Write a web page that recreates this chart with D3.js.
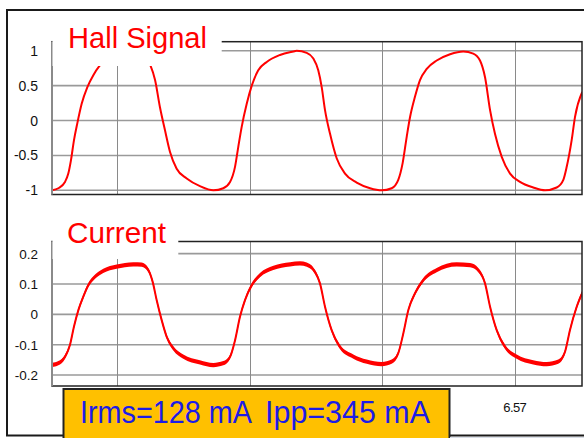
<!DOCTYPE html>
<html>
<head>
<meta charset="utf-8">
<script src="https://cdn.jsdelivr.net/npm/d3@7"></script>
<style>
  html, body { margin: 0; padding: 0; background: #fff; }
  svg { display: block; font-family: "Liberation Sans", Arial, sans-serif; }
</style>
</head>
<body>
<svg id="chart" width="584" height="438"></svg>
<script>
// Time axis in milliseconds
const hallTime = [6535.05, 6535.55, 6536.05, 6536.30, 6536.50, 6536.73, 6536.98, 6537.31, 6537.74, 6538.19,
  6538.64, 6539.07, 6539.60, 6540.20, 6540.96, 6541.56, 6542.02, 6542.32, 6542.52, 6542.85,
  6543.22, 6543.60, 6543.98, 6544.48, 6545.24, 6546.24, 6547.25, 6548.00, 6548.51, 6548.89,
  6549.13, 6549.39, 6549.77, 6550.15, 6550.64, 6551.28, 6552.28, 6553.29, 6553.54, 6554.30,
  6554.80, 6555.17, 6555.43, 6555.68, 6556.06, 6556.56, 6557.19, 6558.07, 6559.08, 6559.96,
  6560.71, 6561.21, 6561.54, 6561.85, 6562.10, 6562.47, 6562.85, 6563.36, 6564.11, 6565.12,
  6566.12, 6566.87, 6567.38, 6567.76, 6568.14, 6568.51, 6569.02, 6569.65, 6570.40, 6571.40,
  6572.29, 6573.17, 6573.67, 6573.93, 6574.30, 6574.55, 6575.10];
const hallValue = [-1.00, -0.97, -0.88, -0.76, -0.57, -0.28, -0.04, 0.24, 0.48, 0.65,
  0.78, 0.86, 0.92, 0.96, 0.99, 0.97, 0.91, 0.85, 0.78, 0.58,
  0.19, -0.14, -0.45, -0.69, -0.83, -0.94, -1.00, -0.97, -0.88, -0.66,
  -0.38, -0.09, 0.24, 0.50, 0.72, 0.84, 0.94, 0.99, 1.00, 0.97,
  0.89, 0.72, 0.48, 0.15, -0.19, -0.54, -0.76, -0.89, -0.97, -1.00,
  -0.97, -0.85, -0.61, -0.23, 0.05, 0.34, 0.58, 0.74, 0.86, 0.95,
  0.99, 0.96, 0.86, 0.62, 0.15, -0.19, -0.52, -0.76, -0.88, -0.96,
  -1.00, -0.96, -0.85, -0.66, -0.28, 0.05, 0.41];

const currentTime = [6535.05, 6535.55, 6536.05, 6536.43, 6536.73, 6537.06, 6537.43, 6537.81, 6538.32, 6538.94,
  6539.95, 6541.21, 6541.84, 6542.34, 6542.67, 6542.97, 6543.35, 6543.73, 6544.23, 6544.98,
  6546.24, 6547.25, 6548.00, 6548.51, 6548.89, 6549.26, 6549.64, 6550.15, 6550.77, 6551.78,
  6553.04, 6553.79, 6554.30, 6554.92, 6555.30, 6555.68, 6556.18, 6556.81, 6557.82, 6558.83,
  6559.96, 6560.71, 6561.21, 6561.59, 6561.97, 6562.47, 6563.10, 6564.11, 6565.62, 6566.63,
  6567.25, 6567.76, 6568.14, 6568.64, 6569.27, 6570.15, 6571.40, 6572.42, 6573.29, 6573.80,
  6574.17, 6574.68, 6575.13];
const currentValue = [-0.167, -0.161, -0.140, -0.100, -0.040, 0.014, 0.058, 0.096, 0.124, 0.143,
  0.157, 0.165, 0.164, 0.146, 0.107, 0.047, -0.019, -0.074, -0.112, -0.139,
  -0.158, -0.167, -0.161, -0.140, -0.085, -0.008, 0.047, 0.096, 0.129, 0.153,
  0.165, 0.168, 0.164, 0.140, 0.102, 0.025, -0.052, -0.107, -0.139, -0.156,
  -0.164, -0.156, -0.128, -0.063, 0.014, 0.069, 0.113, 0.146, 0.165, 0.162,
  0.146, 0.102, 0.025, -0.052, -0.107, -0.139, -0.158, -0.164, -0.156, -0.123,
  -0.052, 0.025, 0.074];
// half-width of the switching ripple riding on the current trace
const currentRipple = 0.007;

const hallTicks = [-1, -0.5, 0, 0.5, 1];
const currentTicks = [-0.2, -0.1, 0, 0.1, 0.2];
const timeTicks = [6540, 6550, 6560, 6570];
const hallTitle = "Hall Signal";
const currentTitle = "Current";
const readoutLeft = "Irms=128 mA";
const readoutRight = "Ipp=345 mA";

const svg = d3.select("#chart");
const RED = "#ff0000";
const GRID = "#9a9a9a";

// outer frame
svg.append("rect").attr("x", 7).attr("y", 10).attr("width", 600).attr("height", 425.5)
  .attr("fill", "#fff").attr("stroke", "#1a1a1a").attr("stroke-width", 2);

const plotLeft = 52, plotRight = 582;
const x = d3.scaleLinear().domain([6535.07, 6575.08]).range([plotLeft, plotRight]);

const hallPanel = { top: 41.7, bottom: 194.5, domain: [-1.06, 1.13], ticks: hallTicks, fs: 14 };
const currentPanel = { top: 241.5, bottom: 386, domain: [-0.236, 0.24], ticks: currentTicks, fs: 13.5 };

// readout box geometry (it sits over the left part of the time labels)
const box = { x: 63.5, y: 389, w: 386, h: 60 };

function drawPanel(p, id) {
  const y = d3.scaleLinear().domain(p.domain).range([p.bottom, p.top]);
  const g = svg.append("g");
  g.append("clipPath").attr("id", id).append("rect")
    .attr("x", plotLeft).attr("y", p.top).attr("width", plotRight - plotLeft).attr("height", p.bottom - p.top);
  g.append("rect").attr("x", plotLeft).attr("y", p.top)
    .attr("width", plotRight - plotLeft).attr("height", p.bottom - p.top).attr("fill", "#fff");
  // horizontal grid
  g.selectAll("line.hg").data(p.ticks).join("line").attr("class", "hg")
    .attr("x1", plotLeft).attr("x2", plotRight)
    .attr("y1", d => y(d)).attr("y2", d => y(d))
    .attr("stroke", GRID).attr("stroke-width", 1.6);
  // vertical grid
  g.selectAll("line.vg").data(timeTicks).join("line").attr("class", "vg")
    .attr("x1", d => Math.round(x(d)) + 0.5).attr("x2", d => Math.round(x(d)) + 0.5)
    .attr("y1", p.top).attr("y2", p.bottom)
    .attr("stroke", "#8a8a8a").attr("stroke-width", 1);
  // y tick labels
  g.selectAll("text.yt").data(p.ticks).join("text").attr("class", "yt")
    .attr("x", 38).attr("y", d => y(d)).attr("dy", "0.36em")
    .attr("text-anchor", "end").attr("font-size", p.fs).attr("fill", "#111")
    .text(d => String(d));
  return { g, y };
}

// Hall signal panel
const hp = drawPanel(hallPanel, "clipHall");
const hallData = d3.zip(hallTime, hallValue);
hp.g.append("path").datum(hallData)
  .attr("clip-path", "url(#clipHall)")
  .attr("fill", "none").attr("stroke", RED).attr("stroke-width", 2)
  .attr("d", d3.line().x(d => x(d[0])).y(d => hp.y(d[1])).curve(d3.curveMonotoneX));

// Current panel
const cp = drawPanel(currentPanel, "clipCurrent");
const currentData = d3.zip(currentTime, currentValue);
cp.g.append("path").datum(currentData)
  .attr("clip-path", "url(#clipCurrent)")
  .attr("fill", RED).attr("stroke", "none")
  .attr("d", d3.area().x(d => x(d[0]))
    .y0(d => cp.y(d[1] - currentRipple)).y1(d => cp.y(d[1] + currentRipple))
    .curve(d3.curveMonotoneX));
cp.g.append("path").datum(currentData)
  .attr("clip-path", "url(#clipCurrent)")
  .attr("fill", "none").attr("stroke", RED).attr("stroke-width", 2)
  .attr("d", d3.line().x(d => x(d[0])).y(d => cp.y(d[1])).curve(d3.curveMonotoneX));

// panel borders
[hallPanel, currentPanel].forEach(p => {
  svg.append("rect").attr("x", plotLeft).attr("y", p.top)
    .attr("width", plotRight - plotLeft).attr("height", p.bottom - p.top)
    .attr("fill", "none").attr("stroke", "#222").attr("stroke-width", 1.5);
  svg.append("line").attr("x1", plotLeft).attr("x2", plotLeft)
    .attr("y1", p.top).attr("y2", p.bottom)
    .attr("stroke", "#8a8a8a").attr("stroke-width", 2);
});

// x tick labels under the current panel (only those clear of the readout box)
svg.selectAll("text.xt").data(timeTicks.filter(d => x(d) > box.x + box.w)).join("text").attr("class", "xt")
  .attr("x", d => x(d)).attr("y", 411.5)
  .attr("text-anchor", "middle").attr("font-size", 13).attr("fill", "#111")
  .attr("letter-spacing", -0.6)
  .text(d => (d / 1000).toFixed(2));

// panel titles on white plates
svg.append("rect").attr("x", 52.5).attr("y", 13).attr("width", 169.2).attr("height", 53).attr("fill", "#fff");
svg.append("text").attr("x", 68).attr("y", 48.3).attr("font-size", 30).attr("fill", RED)
  .attr("textLength", 139).attr("lengthAdjust", "spacingAndGlyphs").text(hallTitle);

svg.append("rect").attr("x", 52.5).attr("y", 205).attr("width", 125.8).attr("height", 54).attr("fill", "#fff");
svg.append("text").attr("x", 67).attr("y", 243.3).attr("font-size", 30).attr("fill", RED)
  .attr("textLength", 99).attr("lengthAdjust", "spacingAndGlyphs").text(currentTitle);

// measurement readout box
svg.append("rect").attr("x", box.x).attr("y", box.y).attr("width", box.w).attr("height", box.h)
  .attr("fill", "#ffc000").attr("stroke", "#222").attr("stroke-width", 2);
svg.append("text").attr("x", 80).attr("y", 423).attr("font-size", 31).attr("fill", "#1c1ce6")
  .attr("textLength", 172).attr("lengthAdjust", "spacingAndGlyphs").text(readoutLeft);
svg.append("text").attr("x", 265).attr("y", 423).attr("font-size", 31).attr("fill", "#1c1ce6")
  .attr("textLength", 165).attr("lengthAdjust", "spacingAndGlyphs").text(readoutRight);

// strip under the frame
svg.append("rect").attr("x", 450).attr("y", 437).attr("width", 134).attr("height", 1).attr("fill", "#d8dde6");
</script>
</body>
</html>
